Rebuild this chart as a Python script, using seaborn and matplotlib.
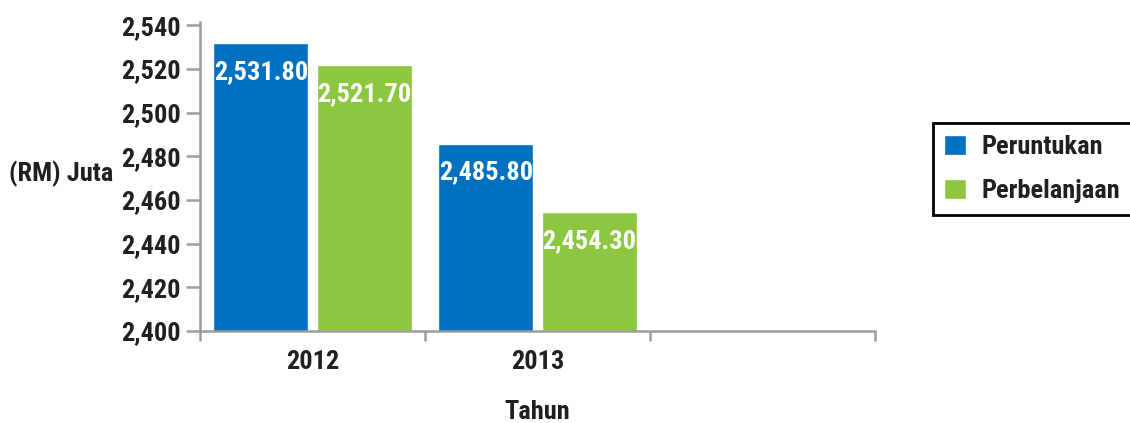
import pandas as pd
import matplotlib.pyplot as plt
import seaborn as sns

# data
tahun = ['2012', '2013']
peruntukan = [2531.80, 2485.80]
perbelanjaan = [2521.70, 2454.30]
y_ticks = [2400, 2420, 2440, 2460, 2480, 2500, 2520, 2540]

df = pd.DataFrame({
    'Tahun': tahun * 2,
    'Jenis': ['Peruntukan'] * len(tahun) + ['Perbelanjaan'] * len(tahun),
    'Nilai': peruntukan + perbelanjaan,
})

sns.set_style('white')
plt.rcParams['font.family'] = ['Roboto Condensed', 'Fira Sans Condensed',
                               'Archivo Narrow', 'Liberation Sans Narrow',
                               'DejaVu Sans']
plt.rcParams['font.weight'] = 'bold'

text_col = '#231F20'
axis_col = '#9D9D9F'
palette = {'Peruntukan': '#0070C0', 'Perbelanjaan': '#8DC63F'}
fs = 19

fig = plt.figure(figsize=(11.3, 4.23), dpi=100, facecolor='white')
ax = fig.add_axes([200 / 1130, 92 / 423, 675 / 1130, 309 / 423])

sns.barplot(data=df, x='Tahun', y='Nilai', hue='Jenis', order=tahun,
            palette=palette, width=0.916, gap=0.078, saturation=1,
            errorbar=None, ax=ax)

# value labels inside the top of each bar
for p in ax.patches:
    h = p.get_height()
    if h <= 0:
        continue
    ax.annotate(f'{h:,.2f}', xy=(p.get_x() + p.get_width() / 2, h),
                xytext=(0, -12), textcoords='offset points',
                ha='center', va='top', color='white', fontsize=19,
                fontweight='bold')

ax.set_xlim(-0.5, 2.5)
ax.set_ylim(2400, 2541.5)
ax.set_yticks(y_ticks)
ax.set_yticklabels([f'{v:,}' for v in y_ticks])

# category boundary ticks + labels at centres
ax.set_xticks([-0.5, 0.5, 1.5, 2.5])
ax.set_xticklabels([])
ax.set_xticks([0, 1], minor=True)
ax.set_xticklabels(tahun, minor=True)
ax.tick_params(axis='x', which='major', direction='out', length=7.5,
               width=1.8, color=axis_col, bottom=True)
ax.tick_params(axis='x', which='minor', length=0, pad=14,
               labelsize=fs, labelcolor=text_col)
ax.tick_params(axis='y', direction='out', length=10, width=1.8,
               color=axis_col, left=True, labelsize=fs, labelcolor=text_col, pad=4)

for s in ['top', 'right']:
    ax.spines[s].set_visible(False)
for s in ['left', 'bottom']:
    ax.spines[s].set_color(axis_col)
    ax.spines[s].set_linewidth(1.8)

ax.set_ylabel('(RM) Juta', rotation=0, fontsize=fs, color=text_col,
              ha='right', va='center', fontweight='bold')
ax.yaxis.set_label_coords(-0.128, 0.51)
ax.set_xlabel('Tahun', fontsize=fs, color=text_col, va='center',
              fontweight='bold')
ax.xaxis.set_label_coords(0.5, -0.262)

handles, labels = ax.get_legend_handles_labels()
ax.legend(handles, labels, loc='center', bbox_to_anchor=(0.9135, 0.6),
          bbox_transform=fig.transFigure, fontsize=fs, frameon=True,
          fancybox=False, framealpha=1, edgecolor='black',
          handlelength=0.8, handleheight=0.8, handletextpad=0.6,
          borderpad=0.45, labelspacing=0.75, labelcolor=text_col)
ax.get_legend().get_frame().set_linewidth(2)

fig.savefig('out.png', dpi=100, facecolor='white')
